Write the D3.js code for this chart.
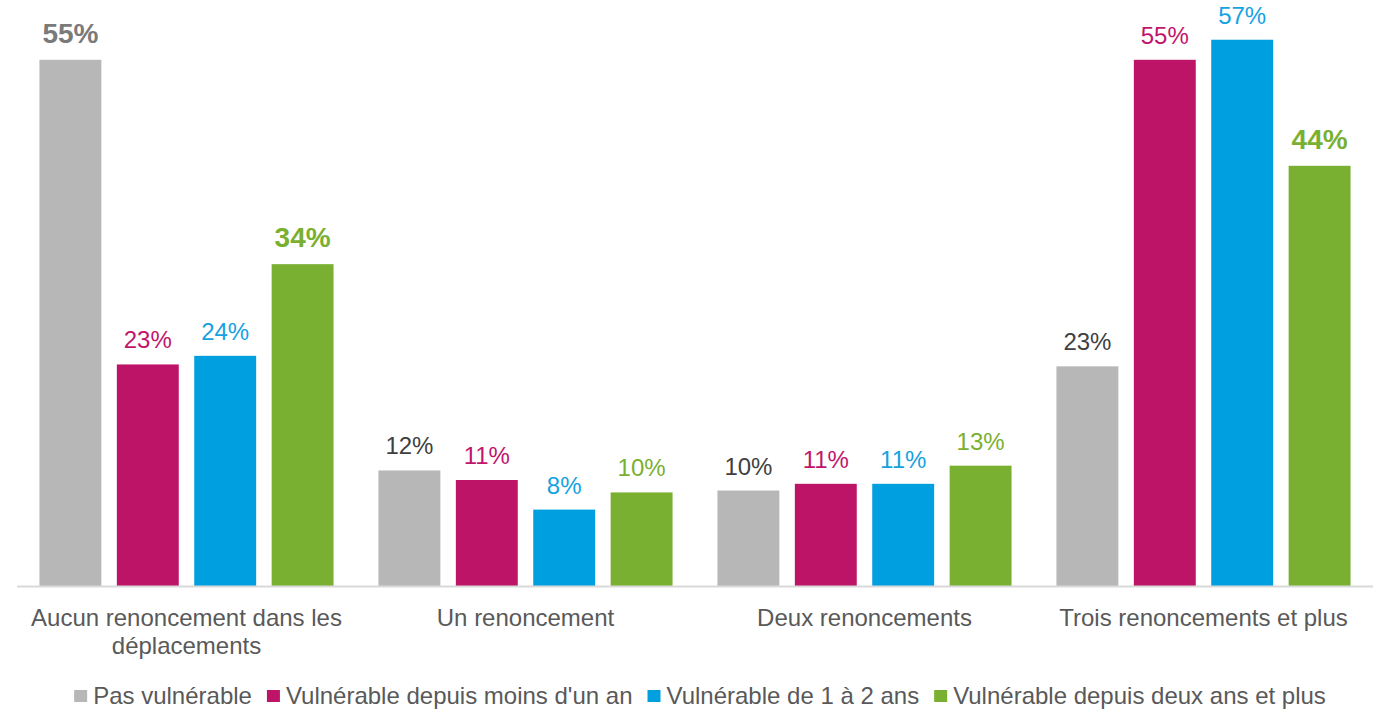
<!DOCTYPE html>
<html lang="fr">
<head>
<meta charset="utf-8">
<script src="https://cdn.jsdelivr.net/npm/d3@7/dist/d3.min.js"></script>
<style>
    body { margin: 0; background: #fff; }
    svg { display: block; font-family: Arial, "Liberation Sans", sans-serif; }
</style>
</head>
<body>
<div id="chart"></div>
<script>
    // categories & series
    const categories = [
        ['Aucun renoncement dans les', 'déplacements'],
        ['Un renoncement'],
        ['Deux renoncements'],
        ['Trois renoncements et plus']
    ];
    const series = ['Pas vulnérable', 'Vulnérable depuis moins d\'un an', 'Vulnérable de 1 à 2 ans', 'Vulnérable depuis deux ans et plus'];
    const barColors = ['#b7b7b7', '#be1467', '#009fdf', '#7ab031'];
    const labelColors = ['#404040', '#c0156c', '#16a2df', '#7ab031'];

    // values per series, one entry per category (%)
    const pasVulnerable = [55.1, 12.1, 10.0, 23.0];
    const moinsUnAn = [23.2, 11.1, 10.7, 55.1];
    const unADeuxAns = [24.1, 8.0, 10.7, 57.2];
    const deuxAnsEtPlus = [33.7, 9.8, 12.6, 44.0];
    const values = [pasVulnerable, moinsUnAn, unADeuxAns, deuxAnsEtPlus];

    // labels shown bold: [series, category]
    const boldLabels = [[0, 0], [3, 0], [3, 3]];

    const width = 1378, height = 711;
    const baseY = 586;

    const svg = d3.select('#chart').append('svg')
        .attr('width', width).attr('height', height);

    const x0 = d3.scaleBand()
        .domain(d3.range(categories.length))
        .range([17, 1373]);
    const x1 = d3.scaleBand()
        .domain(d3.range(series.length))
        .range([0, x0.bandwidth()])
        .paddingInner(0.2)
        .paddingOuter(0.29);
    const y = d3.scaleLinear().domain([0, 60]).range([baseY, baseY - 573]);

    const cells = [];
    values.forEach((vals, s) => vals.forEach((v, c) => cells.push({s, c, v})));
    const isBold = d => boldLabels.some(([s, c]) => s === d.s && c === d.c);

    svg.append('g').selectAll('rect')
        .data(cells)
        .enter().append('rect')
        .attr('x', d => x0(d.c) + x1(d.s))
        .attr('y', d => y(d.v))
        .attr('width', x1.bandwidth())
        .attr('height', d => y(0) - y(d.v))
        .attr('fill', d => barColors[d.s]);

    svg.append('line')
        .attr('x1', x0.range()[0]).attr('x2', x0.range()[1])
        .attr('y1', baseY + 0.5).attr('y2', baseY + 0.5)
        .attr('stroke', '#d9d9d9').attr('stroke-width', 2);

    svg.append('g').selectAll('text')
        .data(cells)
        .enter().append('text')
        .attr('x', d => x0(d.c) + x1(d.s) + x1.bandwidth() / 2)
        .attr('y', d => y(d.v) - (isBold(d) ? 17 : 16))
        .attr('text-anchor', 'middle')
        .attr('font-size', d => isBold(d) ? 28 : 24)
        .attr('font-weight', d => isBold(d) ? 'bold' : 'normal')
        .attr('fill', d => (d.s === 0 && isBold(d)) ? '#7a7a7a' : labelColors[d.s])
        .text(d => Math.round(d.v) + '%');

    // category labels
    const cat = svg.append('g').selectAll('text')
        .data(categories)
        .enter().append('text')
        .attr('text-anchor', 'middle')
        .attr('font-size', 24)
        .attr('fill', '#595959');
    cat.selectAll('tspan')
        .data((d, i) => d.map(t => ({t, i})))
        .enter().append('tspan')
        .attr('x', d => x0(d.i) + x0.bandwidth() / 2)
        .attr('y', (d, j) => 626 + j * 28)
        .text(d => d.t);

    // legend
    const legend = svg.append('g');
    const items = legend.selectAll('g')
        .data(series)
        .enter().append('g');
    items.append('rect')
        .attr('width', 13).attr('height', 12)
        .attr('y', 690)
        .attr('fill', (d, i) => barColors[i]);
    items.append('text')
        .attr('x', 19).attr('y', 704)
        .attr('font-size', 24)
        .attr('fill', '#595959')
        .text(d => d);
    let offset = 0;
    const gap = 15;
    items.each(function() {
        const w = this.getBBox().width;
        d3.select(this).attr('data-x', offset);
        offset += w + gap;
    });
    const total = offset - gap;
    const startX = 700 - total / 2;
    items.attr('transform', function() {
        return `translate(${startX + (+this.getAttribute('data-x'))},0)`;
    });
</script>
</body>
</html>
